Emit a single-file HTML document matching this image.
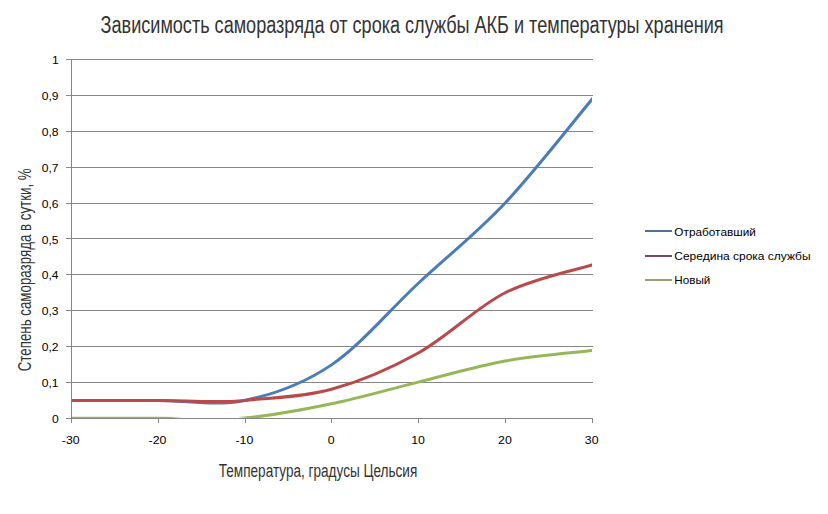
<!DOCTYPE html>
<html><head><meta charset="utf-8"><style>
html,body{margin:0;padding:0;background:#fff;}
body{width:828px;height:514px;overflow:hidden;position:relative;}
svg{position:absolute;left:0;top:0;}
text{font-family:"Liberation Sans",sans-serif;}
.t{font-size:11px;fill:#000;}
</style></head><body>
<svg width="828" height="514" viewBox="0 0 828 514">
<g shape-rendering="crispEdges">
<line x1="66" y1="59.5" x2="593" y2="59.5" stroke="#868686" stroke-width="1"/>
<line x1="66" y1="95.5" x2="593" y2="95.5" stroke="#868686" stroke-width="1"/>
<line x1="66" y1="131.5" x2="593" y2="131.5" stroke="#868686" stroke-width="1"/>
<line x1="66" y1="167.5" x2="593" y2="167.5" stroke="#868686" stroke-width="1"/>
<line x1="66" y1="203.5" x2="593" y2="203.5" stroke="#868686" stroke-width="1"/>
<line x1="66" y1="238.5" x2="593" y2="238.5" stroke="#868686" stroke-width="1"/>
<line x1="66" y1="274.5" x2="593" y2="274.5" stroke="#868686" stroke-width="1"/>
<line x1="66" y1="310.5" x2="593" y2="310.5" stroke="#868686" stroke-width="1"/>
<line x1="66" y1="346.5" x2="593" y2="346.5" stroke="#868686" stroke-width="1"/>
<line x1="66" y1="382.5" x2="593" y2="382.5" stroke="#868686" stroke-width="1"/>
<line x1="71.5" y1="59" x2="71.5" y2="422" stroke="#868686" stroke-width="1"/>
<line x1="66" y1="418.5" x2="71" y2="418.5" stroke="#868686" stroke-width="1"/>
<line x1="71.5" y1="418" x2="71.5" y2="423" stroke="#868686" stroke-width="1"/>
<line x1="158.5" y1="418" x2="158.5" y2="423" stroke="#868686" stroke-width="1"/>
<line x1="245.5" y1="418" x2="245.5" y2="423" stroke="#868686" stroke-width="1"/>
<line x1="331.5" y1="418" x2="331.5" y2="423" stroke="#868686" stroke-width="1"/>
<line x1="418.5" y1="418" x2="418.5" y2="423" stroke="#868686" stroke-width="1"/>
<line x1="505.5" y1="418" x2="505.5" y2="423" stroke="#868686" stroke-width="1"/>
<line x1="592.5" y1="418" x2="592.5" y2="423" stroke="#868686" stroke-width="1"/>
</g>
<clipPath id="pc"><rect x="72" y="40" width="520" height="378"/></clipPath>
<clipPath id="pg"><polygon points="72,40 592,40 592,418 247,418 233,416.5 72,416.5"/></clipPath>
<path clip-path="url(#pc)" d="M71.00,400.41 C85.47,400.41 128.89,400.41 157.83,400.41 C186.78,400.41 215.72,406.33 244.67,400.41 C273.61,394.49 302.56,384.40 331.50,364.87 C360.44,345.34 389.39,310.22 418.33,283.23 C447.28,256.25 476.22,233.62 505.17,202.96 C534.11,172.30 577.53,116.56 592.00,99.28" fill="none" stroke="#4A7CB8" stroke-width="3" stroke-linejoin="round" stroke-linecap="square"/>
<path clip-path="url(#pc)" d="M71.00,400.41 C85.47,400.41 128.89,400.41 157.83,400.41 C186.78,400.41 215.72,403.37 244.67,400.41 C273.61,397.45 302.56,397.22 331.50,389.32 C360.44,381.41 389.39,369.07 418.33,352.99 C447.28,336.90 476.22,307.46 505.17,292.78 C534.11,278.10 577.53,269.57 592.00,264.92" fill="none" stroke="#BA4A4A" stroke-width="3" stroke-linejoin="round" stroke-linecap="square"/>
<path clip-path="url(#pg)" d="M71.00,418.00 C85.47,418.00 128.89,418.00 157.83,418.00 C186.78,418.00 215.72,420.37 244.67,418.00 C273.61,415.63 302.56,409.77 331.50,403.78 C360.44,397.80 389.39,389.23 418.33,382.10 C447.28,374.97 476.22,366.24 505.17,360.99 C534.11,355.74 577.53,352.31 592.00,350.58" fill="none" stroke="#97B657" stroke-width="3" stroke-linejoin="round" stroke-linecap="square"/>
<linearGradient id="gf" x1="71" x2="182" y1="0" y2="0" gradientUnits="userSpaceOnUse"><stop offset="0.9" stop-color="#97B657"/><stop offset="1" stop-color="#97B657" stop-opacity="0"/></linearGradient><rect x="72" y="417" width="110" height="1" fill="url(#gf)"/>
<line x1="71" y1="418.5" x2="593" y2="418.5" stroke="#868686" stroke-width="1" shape-rendering="crispEdges"/>
<g class="t">
<text transform="translate(58.6,423.0) scale(1.1,1)" text-anchor="end">0</text>
<text transform="translate(58.6,387.1) scale(1.1,1)" text-anchor="end">0,1</text>
<text transform="translate(58.6,351.2) scale(1.1,1)" text-anchor="end">0,2</text>
<text transform="translate(58.6,315.3) scale(1.1,1)" text-anchor="end">0,3</text>
<text transform="translate(58.6,279.4) scale(1.1,1)" text-anchor="end">0,4</text>
<text transform="translate(58.6,243.5) scale(1.1,1)" text-anchor="end">0,5</text>
<text transform="translate(58.6,207.6) scale(1.1,1)" text-anchor="end">0,6</text>
<text transform="translate(58.6,171.7) scale(1.1,1)" text-anchor="end">0,7</text>
<text transform="translate(58.6,135.8) scale(1.1,1)" text-anchor="end">0,8</text>
<text transform="translate(58.6,99.9) scale(1.1,1)" text-anchor="end">0,9</text>
<text transform="translate(58.6,64.0) scale(1.1,1)" text-anchor="end">1</text>
<text transform="translate(70.7,444) scale(1.12,1)" text-anchor="middle">-30</text>
<text transform="translate(157.5,444) scale(1.12,1)" text-anchor="middle">-20</text>
<text transform="translate(244.4,444) scale(1.12,1)" text-anchor="middle">-10</text>
<text transform="translate(331.2,444) scale(1.12,1)" text-anchor="middle">0</text>
<text transform="translate(418.0,444) scale(1.12,1)" text-anchor="middle">10</text>
<text transform="translate(504.9,444) scale(1.12,1)" text-anchor="middle">20</text>
<text transform="translate(591.7,444) scale(1.12,1)" text-anchor="middle">30</text>
</g>
<text id="title" x="100.6" y="32.5" font-size="23" fill="#333" textLength="623" lengthAdjust="spacingAndGlyphs">Зависимость саморазряда от срока службы АКБ и температуры хранения</text>
<text id="xl" x="218.8" y="477" font-size="18" fill="#333" textLength="198.5" lengthAdjust="spacingAndGlyphs">Температура, градусы Цельсия</text>
<text id="yl" transform="translate(30.9,371.3) rotate(-90)" x="0" y="0" font-size="18" fill="#333" textLength="203" lengthAdjust="spacingAndGlyphs">Степень саморазряда в сутки, %</text>
<g class="t">
<rect x="645" y="230" width="27" height="2" fill="#546D92"/>
<rect x="645" y="255" width="27" height="2" fill="#7C4B5A"/>
<rect x="645" y="279" width="27" height="2" fill="#98A277"/>
<text x="674.3" y="235.8" textLength="81.6" lengthAdjust="spacingAndGlyphs">Отработавший</text>
<text x="674.3" y="259.8" textLength="136.3" lengthAdjust="spacingAndGlyphs">Середина срока службы</text>
<text x="674.3" y="284" textLength="36.1" lengthAdjust="spacingAndGlyphs">Новый</text>
</g>
</svg>
</body></html>
